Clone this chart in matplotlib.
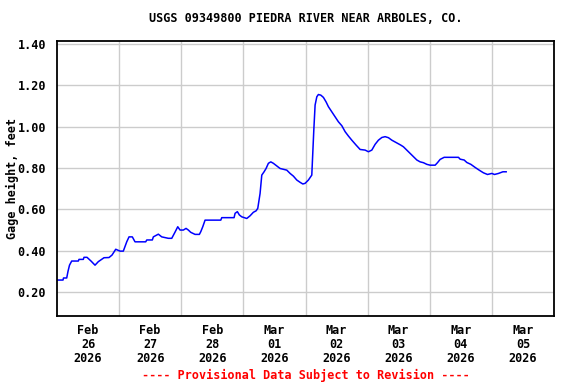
import matplotlib
matplotlib.use("Agg")
import matplotlib.pyplot as plt
import numpy as np

# hours since 2026-02-26 00:00
hours = [0, 2.32, 2.51, 3.75, 4.25, 4.83, 5.68, 8.23, 8.50, 10.16, 10.43, 11.59, 13.14, 14.69,
         15.96, 18.16, 20.10, 21.26, 22.69, 24.35, 25.62, 26.94, 27.83, 29.10, 30.14, 34.28,
         34.67, 36.83, 37.22, 39.15, 40.46, 43.01, 44.33, 45.60, 46.65, 47.54, 48.81, 49.85,
         50.74, 51.67, 53.33, 55.00, 55.54, 56.31, 57.20, 63.27, 63.65, 66.59, 68.41, 68.80,
         69.68, 70.45, 71.38, 73.31, 74.59, 75.86, 76.91, 77.56, 78.07, 78.45, 79.11, 80.00,
         80.77, 81.66, 82.59, 83.59, 84.91, 86.18, 88.77, 90.05, 91.32, 92.64, 93.91, 94.96,
         95.84, 97.12, 98.43, 98.82, 99.21, 99.71, 100.37, 100.98, 101.91, 102.92, 103.96,
         104.85, 106.16, 107.44, 108.71, 110.03, 111.31, 112.58, 113.89, 115.56, 117.10,
         119.03, 120.31, 121.62, 122.90, 124.17, 125.49, 126.76, 128.04, 129.35, 131.28,
         132.83, 133.83, 135.15, 136.42, 137.70, 139.01, 140.29, 141.56, 142.88, 144.15,
         146.09, 146.98, 148.02, 149.56, 155.09, 155.74, 157.29, 158.33, 159.88, 161.54,
         163.09, 164.75, 166.30, 168.00, 169.00, 170.55, 172.25, 173.52]
gage = [0.258, 0.258, 0.268, 0.268, 0.30, 0.33, 0.35, 0.35, 0.358, 0.358, 0.368, 0.368, 0.35, 0.33,
        0.347, 0.366, 0.367, 0.379, 0.407, 0.398, 0.398, 0.443, 0.467, 0.467, 0.443, 0.443,
        0.452, 0.452, 0.467, 0.48, 0.467, 0.46, 0.46, 0.49, 0.516, 0.50, 0.50, 0.508,
        0.50, 0.489, 0.479, 0.479, 0.492, 0.516, 0.548, 0.548, 0.56, 0.56, 0.56, 0.581,
        0.589, 0.573, 0.564, 0.556, 0.569, 0.586, 0.593, 0.605, 0.645, 0.677, 0.766, 0.782,
        0.798, 0.823, 0.83, 0.823, 0.81, 0.798, 0.79, 0.774, 0.761, 0.742, 0.731, 0.723,
        0.726, 0.742, 0.766, 0.879, 0.984, 1.105, 1.145, 1.156, 1.153, 1.142, 1.12,
        1.097, 1.072, 1.048, 1.024, 1.005, 0.976, 0.955, 0.935, 0.911, 0.89,
        0.887, 0.879, 0.887, 0.915, 0.935, 0.948, 0.952, 0.947, 0.935, 0.922,
        0.911, 0.903, 0.887, 0.871, 0.855, 0.839, 0.83, 0.826, 0.818, 0.814,
        0.814, 0.826, 0.842, 0.852, 0.852, 0.843, 0.839, 0.827, 0.818, 0.803,
        0.79, 0.777, 0.769, 0.774, 0.769, 0.774, 0.782, 0.782]

day_labels = ["Feb\n26\n2026", "Feb\n27\n2026", "Feb\n28\n2026", "Mar\n01\n2026",
              "Mar\n02\n2026", "Mar\n03\n2026", "Mar\n04\n2026", "Mar\n05\n2026"]
y_ticks = [0.20, 0.40, 0.60, 0.80, 1.00, 1.20, 1.40]

font = "DejaVu Sans Mono"
fig = plt.figure(figsize=(5.76, 3.84), dpi=100)
ax = fig.add_axes([57/576, 1 - 316/384, (554-57)/576, (316-41)/384])

ax.plot(hours, gage, color="#0000ff", lw=1.1)

n = len(day_labels)
ax.set_xlim(0, 24*n)
ax.set_ylim(0.084, 1.415)
ax.set_xticks([24*i + 12 for i in range(n)])
ax.set_xticklabels(day_labels, fontfamily=font, fontweight="bold", fontsize=8.5, linespacing=1.1)
ax.set_xticks([24*i for i in range(1, n)], minor=True)
ax.set_yticks(y_ticks)
ax.set_yticklabels(["%.2f" % v for v in y_ticks], fontfamily=font, fontweight="bold", fontsize=8.5)
ax.tick_params(axis="x", which="both", length=0, pad=6)
ax.tick_params(axis="y", which="both", length=0, pad=8)
ax.grid(True, which="minor", axis="x", color="#cccccc", lw=1)
ax.grid(True, which="major", axis="y", color="#cccccc", lw=1)
ax.set_axisbelow(True)
for s in ax.spines.values():
    s.set_linewidth(1.3)

ax.set_ylabel("Gage height, feet", fontfamily=font, fontweight="bold", fontsize=8.5)
ax.yaxis.set_label_coords(-0.077, 0.5)
fig.text(0.531, 1 - 19/384, "USGS 09349800 PIEDRA RIVER NEAR ARBOLES, CO.", ha="center", va="center",
         fontfamily=font, fontweight="bold", fontsize=8.5)
fig.text(0.531, 1 - 375/384, "---- Provisional Data Subject to Revision ----", ha="center", va="center",
         fontfamily=font, fontweight="bold", fontsize=8.5, color="#ff0000")

fig.savefig("out.png", dpi=100)
